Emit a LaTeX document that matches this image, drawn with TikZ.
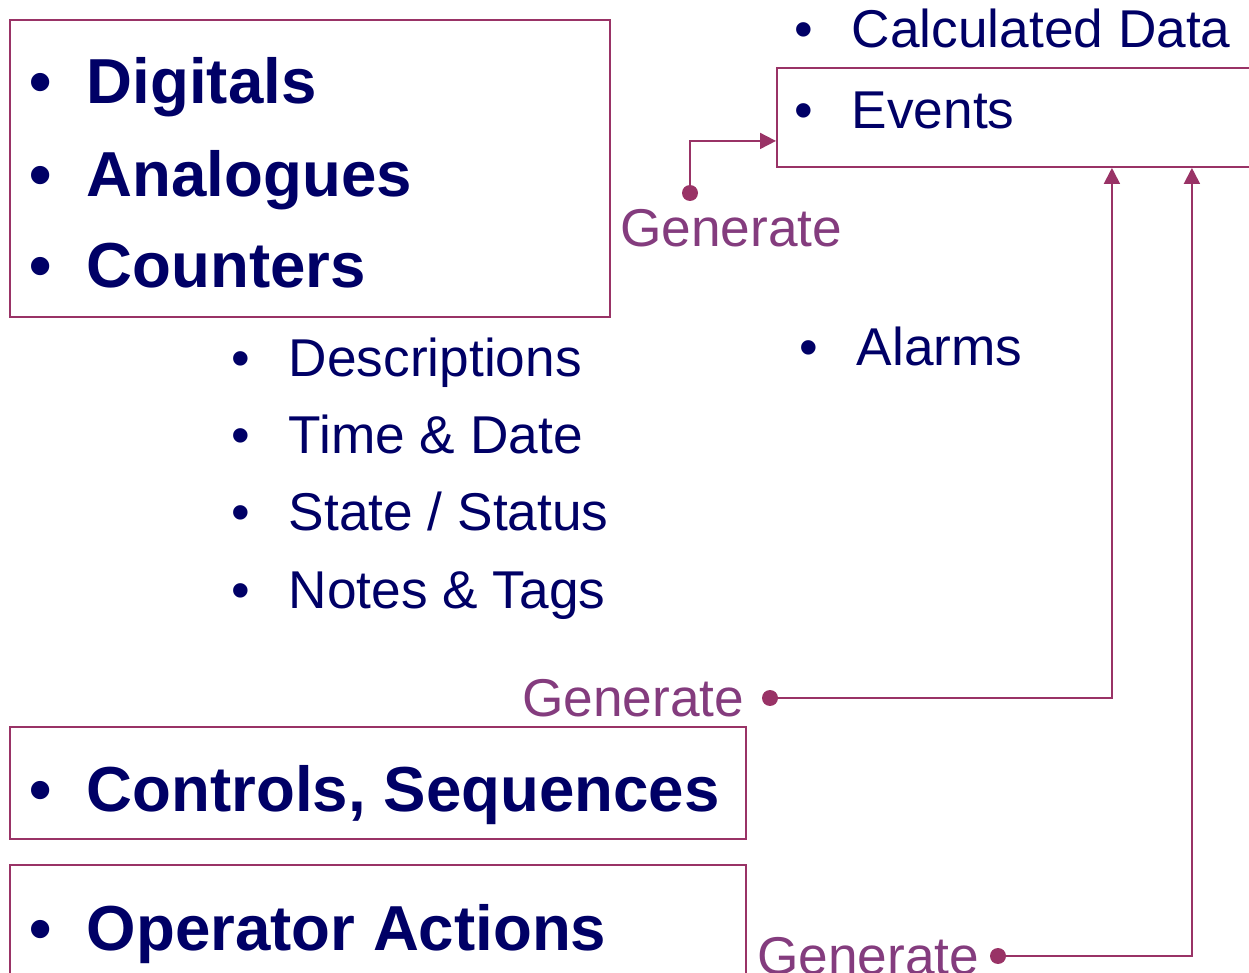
\documentclass[tikz,border=0pt]{standalone}
\usepackage{fontspec}
\setmainfont{Liberation Sans}
\usepackage{tikz}
\usetikzlibrary{arrows.meta, positioning}

\definecolor{navytext}{HTML}{000066}
\definecolor{framerose}{HTML}{993366}
\definecolor{genpurple}{HTML}{843C7E}
\newcommand{\itm}[1]{\makebox[1.15cm][l]{\textbullet}#1}

\begin{document}
\begin{tikzpicture}[
    x=0.02cm, y=-0.02cm,
    % frames round the point lists
    box/.style={
        draw=framerose,
        line width=1.1pt,
        anchor=north west,
        inner sep=0pt
    },
    bigitem/.style={anchor=base west, inner sep=0pt, text=navytext,
        font=\fontsize{36.2}{43}\selectfont\bfseries},
    smallitem/.style={anchor=base west, inner sep=0pt, text=navytext,
        font=\fontsize{30.3}{36}\selectfont},
    gen/.style={anchor=base west, inner sep=0pt, text=genpurple,
        font=\fontsize{30.3}{36}\selectfont},
    gdot/.style={circle, fill=framerose, inner sep=0pt, minimum size=0.32cm},
    line/.style={draw=framerose, line width=1.1pt, -{Triangle[length=0.32cm, width=0.32cm]}}
]
    \useasboundingbox (0,0) rectangle (1249,973);

    % Frames
    \node [box, minimum width=12cm, minimum height=5.94cm] (signals) at (9,19) {};
    \node [box, minimum width=10.6cm, minimum height=1.98cm] (events) at (776,67) {};
    \node [box, minimum width=14.72cm, minimum height=2.24cm] (controls) at (9,726) {};
    \node [box, minimum width=14.72cm, minimum height=2.92cm] (operator) at (9,864) {};

    % Bold items
    \node [bigitem] (digitals) at (29,104) {\itm{Digitals}};
    \node [bigitem] (analogues) at (29,197) {\itm{Analogues}};
    \node [bigitem] (counters) at (29,288) {\itm{Counters}};
    \node [bigitem] (ctrlseq) at (29,811) {\itm{Controls, Sequences}};
    \node [bigitem] (opact) at (29,950) {\itm{Operator Actions}};

    % Plain items
    \node [smallitem] (desc) at (231,377) {\itm{Descriptions}};
    \node [smallitem] (timedate) at (231,454) {\itm{Time \& Date}};
    \node [smallitem] (state) at (231,531) {\itm{State / Status}};
    \node [smallitem] (notes) at (231,608) {\itm{Notes \& Tags}};
    \node [smallitem] (calc) at (794,48) {\itm{Calculated Data}};
    \node [smallitem] (evtxt) at (794,129) {\itm{Events}};
    \node [smallitem] (alarms) at (799,366) {\itm{Alarms}};

    % Generate points
    \node [gdot] (gdot1) at (690,193) {};
    \node [gdot] (gdot2) at (770,698) {};
    \node [gdot] (gdot3) at (998,956) {};
    \node [gen] (gen1) at (620,247) {Generate};
    \node [gen, left=0.34cm of gdot2] (gen2) {Generate};
    \node [gen, left=0.2cm of gdot3] (gen3) {Generate};

    % Paths (Arrows)
    \path [line] (gdot1) |- ([yshift=-0.47cm]events.west);
    \path [line] (gdot2) -| ([xshift=6.72cm]events.south west);
    \path [line] (gdot3) -| ([xshift=8.32cm]events.south west);
\end{tikzpicture}
\end{document}
